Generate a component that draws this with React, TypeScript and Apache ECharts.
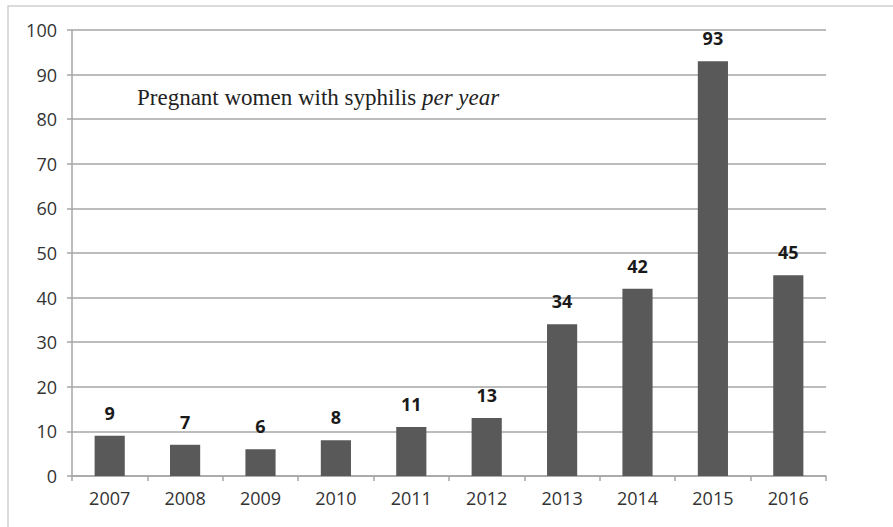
import React, { useEffect, useRef } from "react";
import * as echarts from "echarts";

const categories = ["2007", "2008", "2009", "2010", "2011", "2012", "2013", "2014", "2015", "2016"];
const values = [9, 7, 6, 8, 11, 13, 34, 42, 93, 45];
const titleMain = "Pregnant women with syphilis ";
const titleItalic = "per year";

export default function App() {
  const ref = useRef<HTMLDivElement>(null);
  useEffect(() => {
    if (!ref.current) return;
    const chart = echarts.init(ref.current, undefined, { renderer: "svg" });
    chart.setOption({
      animation: false,
      backgroundColor: "#ffffff",
      grid: { left: 72, right: 67, top: 30, bottom: 51, containLabel: false },
      xAxis: {
        type: "category",
        data: categories,
        axisLine: { show: true, lineStyle: { color: "#a6a6a6", width: 1.5 } },
        axisTick: { show: true, alignWithLabel: false, length: 5, lineStyle: { color: "#a6a6a6", width: 1.5 } },
        axisLabel: { color: "#333333", fontSize: 18, fontFamily: "Open Sans", margin: 13 },
      },
      yAxis: {
        type: "value",
        min: 0,
        max: 100,
        interval: 10,
        axisLine: { show: true, lineStyle: { color: "#a6a6a6", width: 1.5 } },
        axisTick: { show: true, length: 5, lineStyle: { color: "#a6a6a6", width: 1.5 } },
        axisLabel: { color: "#333333", fontSize: 18, fontFamily: "Open Sans", margin: 15 },
        splitLine: { show: true, lineStyle: { color: "#a6a6a6", width: 1.5 } },
      },
      series: [
        {
          type: "bar",
          data: values,
          barWidth: "40%",
          itemStyle: { color: "#595959" },
          label: {
            show: true,
            position: "top",
            distance: 14,
            color: "#1a1a1a",
            fontSize: 18,
            fontWeight: "bold",
            fontFamily: "Open Sans",
          },
        },
      ],
      graphic: [
        {
          type: "rect",
          shape: { x: 8, y: 6, width: 900, height: 540 },
          style: { fill: "none", stroke: "#d0d0d0", lineWidth: 1.5 },
          silent: true,
        },
        {
          type: "text",
          x: 137,
          y: 97,
          style: {
            text: "{a|" + titleMain + "}{b|" + titleItalic + "}",
            rich: {
              a: { fontFamily: "Liberation Serif", fontSize: 23, fill: "#222222" },
              b: { fontFamily: "Liberation Serif", fontSize: 23, fontStyle: "italic", fill: "#222222" },
            },
            verticalAlign: "middle",
          },
        },
      ],
    });
    return () => chart.dispose();
  }, []);
  return <div ref={ref} style={{ position: "absolute", left: 0, top: 0, width: 893, height: 527 }} />;
}
